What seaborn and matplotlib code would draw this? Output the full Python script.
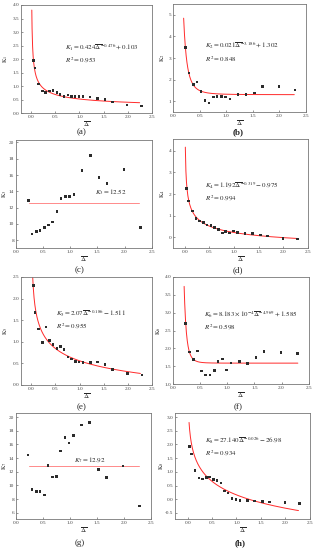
import numpy as np
import matplotlib
matplotlib.use("Agg")
import matplotlib.pyplot as plt
import seaborn as sns

# ---------------- data ----------------
delta_all = [0.04, 0.08, 0.15, 0.23, 0.30, 0.38, 0.45, 0.53, 0.60, 0.68, 0.76,
             0.83, 0.91, 0.99, 1.07, 1.22, 1.37, 1.53, 1.68, 1.99, 2.29]
delta_cut = [0.23, 0.30, 0.38, 0.45, 0.53, 0.60, 0.68, 0.76, 0.83, 0.91,
             0.99, 1.07, 1.22, 1.37, 1.53, 1.68, 1.99, 2.29]

k1 = [1.95, 1.68, 1.08, 0.82, 0.77, 0.83, 0.84, 0.76, 0.70, 0.61, 0.67,
      0.63, 0.63, 0.63, 0.63, 0.60, 0.55, 0.51, 0.42, 0.30, 0.27]
k2 = [3.48, 2.31, 1.78, 1.88, 1.45, 1.03, 0.91, 1.19, 1.22, 1.23, 1.20,
      1.11, 1.31, 1.30, 1.38, 1.67, 1.67, 1.52]
k3 = [12.90, 8.78, 9.06, 9.20, 9.55, 9.88, 10.24, 11.55, 13.14, 13.39,
      13.35, 13.63, 16.57, 18.37, 15.71, 14.98, 16.69, 9.55]
k4 = [2.26, 1.68, 1.22, 0.88, 0.75, 0.69, 0.57, 0.54, 0.45, 0.35, 0.20,
      0.26, 0.20, 0.28, 0.23, 0.17, 0.17, 0.11, 0.05, -0.05, -0.09]
k5 = [2.31, 1.68, 1.30, 0.99, 1.34, 1.03, 0.94, 0.85, 0.89, 0.82, 0.65,
      0.60, 0.54, 0.53, 0.52, 0.52, 0.53, 0.47, 0.36, 0.26, 0.23]
k6 = [2.69, 1.90, 1.68, 1.92, 1.37, 1.25, 1.25, 1.38, 1.63, 1.70, 1.39,
      1.59, 1.63, 1.58, 1.75, 1.91, 1.89, 1.85]
k7 = [14.44, 9.37, 9.12, 9.12, 8.59, 12.93, 11.27, 11.32, 15.07, 16.98,
      16.24, 17.32, 18.83, 19.22, 12.34, 11.17, 12.83, 7.02]
k8 = [1.93, 1.66, 1.05, 0.77, 0.74, 0.79, 0.82, 0.72, 0.68, 0.60, 0.30,
      0.23, 0.02, -0.01, -0.04, -0.04, -0.07, -0.09, -0.10, -0.12, -0.16]

# fitted curves K = a * delta^b + c (coefficients printed on the chart)
fit_k1 = (0.424, -0.476, 0.103)
fit_k2 = (0.021, -3.186, 1.302)
fit_k4 = (1.192, -0.319, -0.975)
fit_k5 = (2.07, -0.186, -1.511)
fit_k6 = (8.183e-4, -4.969, 1.585)
fit_k8 = (27.140, -0.026, -26.98)
mean_k3 = 12.52
mean_k7 = 12.92

labels_eq = {
    "a": [r"$K_1=0.424\overline{\Delta}^{-0.476}+0.103$", r"$R^2=0.953$"],
    "b": [r"$K_2=0.021\overline{\Delta}^{-3.186}+1.302$", r"$R^2=0.848$"],
    "c": [r"$K_3=12.52$"],
    "d": [r"$K_4=1.192\overline{\Delta}^{-0.319}-0.975$", r"$R^2=0.994$"],
    "e": [r"$K_5=2.07\overline{\Delta}^{-0.186}-1.511$", r"$R^2=0.955$"],
    "f": [r"$K_6=8.183\times10^{-4}\overline{\Delta}^{-4.969}+1.585$", r"$R^2=0.598$"],
    "g": [r"$K_7=12.92$"],
    "h": [r"$K_8=27.140\overline{\Delta}^{-0.026}-26.98$", r"$R^2=0.934$"],
}

# ---------------- style ----------------
sns.set_style("ticks")
plt.rcParams["font.family"] = ["Liberation Serif", "DejaVu Serif"]
plt.rcParams["mathtext.fontset"] = "stix"

W, H = 317, 550
fig = plt.figure(figsize=(W / 100, H / 100), dpi=100)
fig.patch.set_facecolor("white")


def box(l, r, t, b):
    return [l / W, 1 - b / H, (r - l) / W, (b - t) / H]


def power_curve(ax, fit, x0, x1):
    a, b, c = fit
    xs = np.linspace(x0, x1, 400)
    ys = a * xs ** b + c
    sns.lineplot(x=xs, y=ys, color="#ff2a2a", lw=0.7, estimator=None, ax=ax)


def flat_line(ax, value, x0, x1):
    sns.lineplot(x=[x0, x1], y=[value, value], color="#ff8a8a", lw=0.7,
                 estimator=None, ax=ax)


def points(ax, xs, ys):
    sns.scatterplot(x=xs, y=ys, marker="s", s=3.5, color="#2b2b2b",
                    edgecolor="none", ax=ax, zorder=3)


def finish(ax, xlim, ylim, yticks, yfmt, ylab, ylab_px, texts, tx, ty):
    ax.set_xlim(*xlim)
    ax.set_ylim(*ylim)
    ax.set_xticks([0.0, 0.5, 1.0, 1.5, 2.0, 2.5])
    ax.set_xticklabels([f"{v:.1f}" for v in [0.0, 0.5, 1.0, 1.5, 2.0, 2.5]])
    ax.set_yticks(yticks)
    ax.set_yticklabels([yfmt.format(v) for v in yticks])
    ax.tick_params(direction="in", length=1.5, width=0.4, labelsize=3.8,
                   pad=1.2, colors="#444444")
    for s in ax.spines.values():
        s.set_color("#777777")
        s.set_linewidth(0.6)
    ax.set_xlabel(r"$\overline{\Delta}$", fontsize=5, labelpad=0.5)
    ax.set_ylabel(ylab, fontsize=4.5)
    # y label: right edge of the rotated text at a fixed pixel column
    pos = ax.get_position()
    ax.yaxis.set_label_coords((ylab_px / W - pos.x0) / pos.width, 0.5)
    for i, t in enumerate(texts):
        ax.text(tx, ty[i], t, transform=ax.transAxes, fontsize=5.0,
                ha="left", va="center")


# (a)
ax = fig.add_axes(box(20.7, 151.7, 5, 113.3))
power_curve(ax, fit_k1, 0.0105, 2.25)
points(ax, delta_all, k1)
finish(ax, (-0.22, 2.5), (0, 4.0), np.arange(0, 4.01, 0.5), "{:.1f}",
       r"$\mathrm{K}_1$", 9.5, labels_eq["a"], 0.34, [0.61, 0.49])

# (b)
ax = fig.add_axes(box(173, 306, 4, 112))
power_curve(ax, fit_k2, 0.2, 2.28)
points(ax, delta_cut, k2)
finish(ax, (0, 2.5), (0.5, 5.5), [1, 2, 3, 4, 5], "{:d}",
       r"$\mathrm{K}_2$", 167, labels_eq["b"], 0.24, [0.61, 0.49])

# (c)
ax = fig.add_axes(box(15.7, 151.7, 140, 248.3))
flat_line(ax, mean_k3, 0.25, 2.26)
points(ax, delta_cut, k3)
finish(ax, (0, 2.5), (7, 20.3), [8, 10, 12, 14, 16, 18, 20], "{:d}",
       r"$\mathrm{K}_3$", 9, labels_eq["c"], 0.58, [0.52])

# (d)
ax = fig.add_axes(box(173, 308, 139, 248))
power_curve(ax, fit_k4, 0.0102, 2.31)
points(ax, delta_all, k4)
finish(ax, (-0.24, 2.5), (-0.5, 4.55), [0, 1, 2, 3, 4], "{:d}",
       r"$\mathrm{K}_4$", 167, labels_eq["d"], 0.24, [0.575, 0.455])

# (e)
ax = fig.add_axes(box(20.7, 152, 277, 385))
power_curve(ax, fit_k5, 0.029, 2.26)
points(ax, delta_all, k5)
finish(ax, (-0.22, 2.5), (0, 2.5), np.arange(0, 2.51, 0.5), "{:.1f}",
       r"$\mathrm{K}_5$", 9.5, labels_eq["e"], 0.27, [0.66, 0.54])

# (f)
ax = fig.add_axes(box(173, 308.7, 277, 384))
power_curve(ax, fit_k6, 0.205, 2.3)
points(ax, delta_cut, k6)
finish(ax, (0, 2.5), (1.0, 4.0), np.arange(1.0, 4.01, 0.5), "{:.1f}",
       r"$\mathrm{K}_6$", 163, labels_eq["f"], 0.23, [0.65, 0.53])

# (g)
ax = fig.add_axes(box(15.7, 150.7, 413, 519))
flat_line(ax, mean_k7, 0.25, 2.29)
points(ax, delta_cut, k7)
finish(ax, (0, 2.5), (5.1, 20.6), [6, 8, 10, 12, 14, 16, 18, 20], "{:d}",
       r"$\mathrm{K}_7$", 9, labels_eq["g"], 0.43, [0.56])

# (h)
ax = fig.add_axes(box(175, 309.7, 413, 519))
power_curve(ax, fit_k8, 0.028, 2.27)
points(ax, delta_all, k8)
finish(ax, (-0.26, 2.5), (-0.72, 3.15), np.arange(-0.5, 3.01, 0.5), "{:.1f}",
       r"$\mathrm{K}_8$", 165.5, labels_eq["h"], 0.22, [0.735, 0.615])

# panel letters
for lab, x, y in [("(a)", 82, 132), ("(b)", 238, 132), ("(c)", 80, 270),
                  ("(d)", 238, 270), ("(e)", 82, 407), ("(f)", 238, 407),
                  ("(g)", 80, 543), ("(h)", 240, 543)]:
    fig.text(x / W, 1 - y / H, lab, fontsize=6.5, ha="center", va="center",
             fontweight="bold" if lab in ("(b)", "(h)") else "normal")

fig.savefig("out.png", dpi=100)
